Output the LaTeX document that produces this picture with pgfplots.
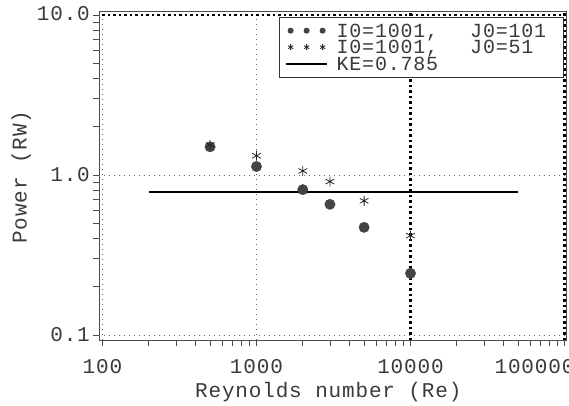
\documentclass[border=0pt]{standalone}
\usepackage{pgfplots}
\pgfplotsset{compat=1.18}
\usepackage{fontspec}
\setmainfont{Liberation Mono}[LetterSpace=4]
\definecolor{txt}{HTML}{3A3A3A}
\definecolor{dotc}{HTML}{444444}
\newcommand\bigf{\fontsize{21pt}{21pt}\selectfont}
\newcommand\legf{\fontsize{20pt}{20pt}\selectfont}
\newcommand\lstrut{\rule[-3.5pt]{0pt}{18.5pt}}
\pgfplotsset{
  three marks/.style={legend image code/.code={\path (0pt,0pt) (41pt,0pt);
    \draw[##1, only marks, mark size=#1] plot coordinates {(5pt,0pt)(21pt,0pt)(37pt,0pt)};}},
  long line/.style={legend image code/.code={\draw[##1] (0pt,0pt) -- (41pt,0pt);}},
}

\begin{document}
\begin{tikzpicture}
\begin{axis}[
  scale only axis, width=467pt, height=329pt,
  xmode=log, ymode=log,
  xmin=95, xmax=102300, ymin=0.0931, ymax=10.59,
  axis line style={black!70, line width=0.8pt},
  xtick={100,1000,10000,100000}, xticklabels={100,1000,10000,\hspace*{-60pt}100000},
  ytick={0.1,1,10}, yticklabels={0.1,1.0,10.0},
  minor xtick={200,300,400,500,600,700,800,900,2000,3000,4000,5000,6000,7000,8000,9000,20000,30000,40000,50000,60000,70000,80000,90000},
  minor ytick={0.2,0.3,0.4,0.5,0.6,0.7,0.8,0.9,2,3,4,5,6,7,8,9},
  tick align=outside, major tick length=6pt, minor tick length=6pt,
  xtick pos=bottom, ytick pos=left,
  tick style={black!70, line width=0.8pt},
  /pgf/number format/assume math mode=true,
  xticklabel style={font=\bigf, text=txt, anchor=base, inner sep=0pt, yshift=-28pt},
  yticklabel style={font=\bigf, text=txt, anchor=base east, inner sep=0pt, xshift=-3pt, yshift=-6pt},
  xlabel={Reynolds number (Re)}, ylabel={Power (RW)},
  every axis x label/.style={at={(axis description cs:0.491,-0.1733)}, anchor=base, font=\bigf, text=txt},
  every axis y label/.style={at={(axis description cs:-0.155,0.495)}, anchor=base, rotate=90, font=\bigf, text=txt},
  legend style={at={(1,1)}, anchor=north east, xshift=-2pt, yshift=-6pt,
    draw=black!80, line width=0.8pt, fill=white, font=\legf, text=txt,
    inner xsep=5pt, inner ysep=5pt, row sep=0pt, column sep=9pt,
    nodes={inner sep=0pt}, cells={anchor=west}},
  clip=false,
]
% grid lines
\draw[black!60, line width=0.8pt, dash pattern=on 1pt off 4pt] (axis cs:100,0.0931) -- (axis cs:100,10.59);
\draw[black!60, line width=0.8pt, dash pattern=on 1pt off 4pt] (axis cs:1000,0.0931) -- (axis cs:1000,10.59);
\draw[black!60, line width=0.8pt, dash pattern=on 1pt off 4pt] (axis cs:95,0.1) -- (axis cs:102300,0.1);
\draw[black!60, line width=0.8pt, dash pattern=on 1pt off 4pt] (axis cs:95,1) -- (axis cs:102300,1);
\draw[black, line width=2.5pt, dash pattern=on 2.5pt off 3pt] (axis cs:10000,0.0931) -- (axis cs:10000,10.59);
\draw[black, line width=2.5pt, dash pattern=on 2.5pt off 3pt] (axis cs:100000,0.0931) -- (axis cs:100000,10.59);
\draw[black, line width=2.5pt, dash pattern=on 2.5pt off 3pt] (axis cs:100,10) -- (axis cs:102300,10);

\addplot[only marks, mark=*, mark size=5.2pt, color=dotc, three marks=2.6pt]
  coordinates {(500,1.50)(1000,1.13)(2000,0.81)(3000,0.656)(5000,0.471)(10000,0.243)};
\addlegendentry{\makebox[222pt][l]{\lstrut I0=1001,\hspace{32pt}J0=101}}

\addplot[only marks, mark=asterisk, mark size=5pt, color=black!85, mark options={line width=0.8pt}, three marks=3pt]
  coordinates {(500,1.54)(1000,1.32)(2000,1.06)(3000,0.91)(5000,0.69)(10000,0.418)};
\addlegendentry{\makebox[222pt][l]{\lstrut I0=1001,\hspace{32pt}J0=51}}

\addplot[black, line width=2pt, mark=none, long line]
  coordinates {(200,0.785)(50000,0.785)};
\addlegendentry{\makebox[222pt][l]{\lstrut KE=0.785}}
\end{axis}
\pgfresetboundingbox
\useasboundingbox (-99pt,-65pt) rectangle (470pt,340pt);
\end{tikzpicture}
\end{document}
